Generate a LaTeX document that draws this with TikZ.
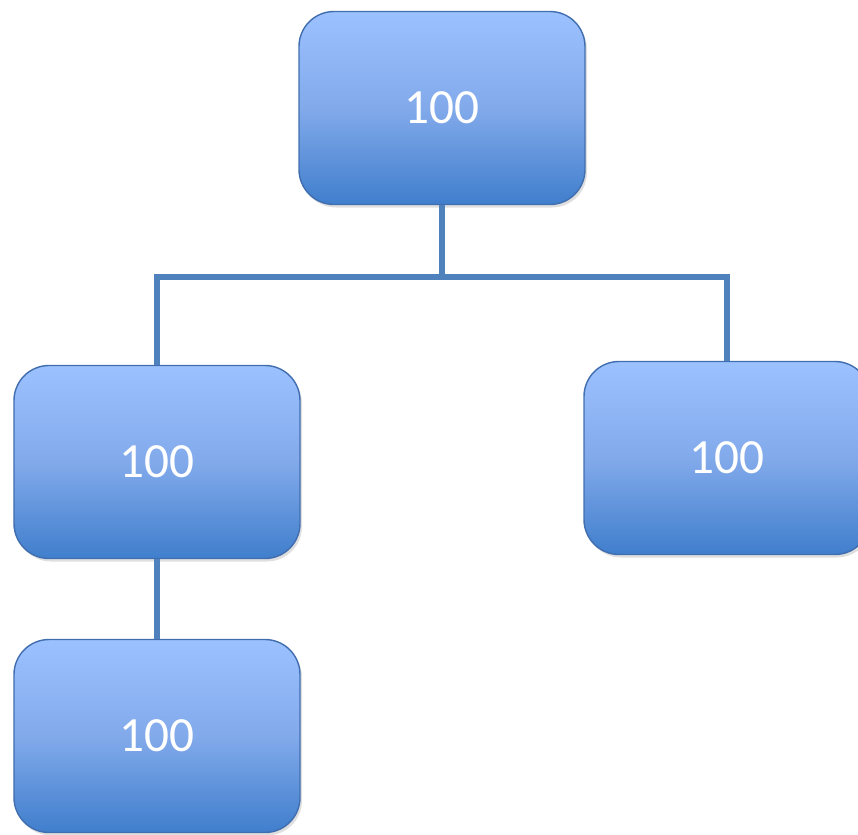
\documentclass[tikz,border=0pt]{standalone}
\usepackage{fontspec}
\setmainfont{Carlito}
\usetikzlibrary{positioning}
\usetikzlibrary{calc}
\usetikzlibrary{shadows}
\definecolor{boxtop}{RGB}{156,193,255}
\definecolor{boxmid}{RGB}{130,170,235}
\definecolor{boxbot}{RGB}{64,126,204}
\definecolor{boxline}{RGB}{65,110,175}
\definecolor{wire}{RGB}{79,129,189}
\tikzset{
    valbox/.style = {rectangle, rounded corners=0.7cm, draw=boxline, line width=0.8pt,
        top color=boxtop, bottom color=boxbot, middle color=boxmid,
        minimum width=5.72cm, minimum height=3.86cm,
        text=white, font=\fontsize{28}{30}\selectfont,
        drop shadow={shadow xshift=0.04cm, shadow yshift=-0.06cm, opacity=0.25}},
    wire/.style = {draw=wire, line width=3.3pt}}

\begin{document}
\begin{tikzpicture}
        \useasboundingbox (0,0) rectangle (17.16,-16.7);
        \path (8.84,-2.16) node[valbox] (root) {100}
        + (-5.7,-7.08) node[valbox] (left) {100}
        + (5.7,-7.0) node[valbox] (right) {100}
        + (-5.7,-12.56) node[valbox] (leaf) {100};
        \coordinate (split) at ($(root.south) + (0,-1.44)$);
        \draw[wire] (root.south) -- (split);
        \draw[wire] (left.north) |- (split) -| (right.north);
        \draw[wire] (left.south) -- (leaf.north);
    \end{tikzpicture}
\end{document}
